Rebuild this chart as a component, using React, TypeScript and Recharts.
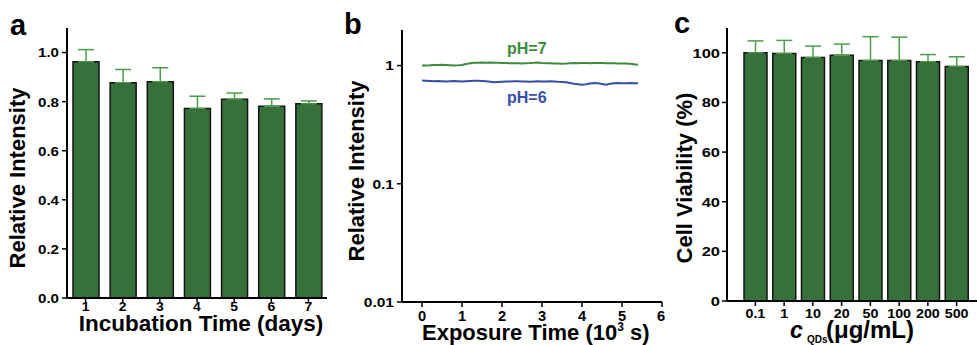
import React from 'react';
import { BarChart, Bar, LineChart, Line, XAxis, YAxis, ErrorBar, Label } from 'recharts';

// panel a: relative intensity over incubation days
const days = ['1', '2', '3', '4', '5', '6', '7'];
const dayIntensity = [0.962, 0.877, 0.881, 0.772, 0.81, 0.781, 0.791];
const dayError = [0.05, 0.054, 0.057, 0.05, 0.025, 0.03, 0.012];

// panel b: photostability traces (time in 10^3 s)
const expTime = [
  0, 0.1, 0.2, 0.3, 0.4, 0.5, 0.6, 0.7, 0.8, 0.9, 1.0, 1.1, 1.2, 1.3, 1.4, 1.5, 1.6, 1.7, 1.8,
  1.9, 2.0, 2.1, 2.2, 2.3, 2.4, 2.5, 2.6, 2.7, 2.8, 2.9, 3.0, 3.1, 3.2, 3.3, 3.4, 3.5, 3.6, 3.7,
  3.8, 3.9, 4.0, 4.1, 4.2, 4.3, 4.4, 4.5, 4.6, 4.7, 4.8, 4.9, 5.0, 5.1, 5.2, 5.3, 5.4,
];
const ph7 = [
  1.0, 1.002, 1.005, 1.01, 1.012, 1.015, 1.012, 1.008, 1.003, 1.006, 1.012, 1.03, 1.045, 1.055,
  1.058, 1.06, 1.057, 1.062, 1.058, 1.055, 1.052, 1.05, 1.046, 1.044, 1.045, 1.043, 1.047, 1.05,
  1.055, 1.062, 1.052, 1.048, 1.046, 1.043, 1.04, 1.038, 1.04, 1.046, 1.05, 1.048, 1.052, 1.05,
  1.047, 1.05, 1.054, 1.052, 1.048, 1.045, 1.046, 1.043, 1.04, 1.042, 1.035, 1.025, 1.018,
];
const ph6 = [
  0.748, 0.745, 0.742, 0.736, 0.74, 0.738, 0.733, 0.736, 0.74, 0.737, 0.734, 0.738, 0.742, 0.745,
  0.743, 0.74, 0.736, 0.73, 0.722, 0.726, 0.731, 0.734, 0.732, 0.736, 0.738, 0.735, 0.733, 0.73,
  0.734, 0.736, 0.732, 0.735, 0.737, 0.734, 0.73, 0.728, 0.722, 0.712, 0.702, 0.696, 0.69, 0.694,
  0.705, 0.712, 0.708, 0.7, 0.69, 0.702, 0.71, 0.712, 0.71, 0.708, 0.712, 0.71, 0.708,
];

// panel c: cell viability vs QD concentration
const concs = ['0.1', '1', '10', '20', '50', '100', '200', '500'];
const viability = [100, 99.7, 98.1, 99, 96.9, 96.9, 96.4, 94.5];
const viabilityErr = [4.8, 5.3, 4.6, 4.5, 9.6, 9.4, 2.9, 3.9];

const dataA = days.map((d, i) => ({ day: d, value: dayIntensity[i], err: [0, dayError[i]] }));
const dataB = expTime.map((t, i) => ({ t, ph7: ph7[i], ph6: ph6[i] }));
const dataC = concs.map((c, i) => ({ conc: c, value: viability[i], err: [0, viabilityErr[i]] }));

const FONT = '"Liberation Sans", Arial, Helvetica, sans-serif';
const BAR_FILL = '#37703a';
const ERR_COLOR = '#4c9c4c';
const frame = { stroke: '#000', strokeWidth: 2 };
const tickLine = { stroke: '#000', strokeWidth: 1.5 };

const AxisTick = (props: any) => {
  const { x = 0, y = 0, payload, side = 'left', stretch = 1.2, size = 13.5, fmt } = props;
  const label = fmt ? fmt(payload.value) : String(payload.value);
  return (
    <text
      transform={`translate(${x},${y}) scale(${stretch},1)`}
      textAnchor={side === 'left' ? 'end' : 'middle'}
      dy={side === 'left' ? '0.36em' : '0.72em'}
      fontSize={size}
      fontWeight="bold"
      fontFamily={FONT}
      fill="#000"
    >
      {label}
    </text>
  );
};

const yTitle = (text: string, x: number, y: number, size = 22) => () => (
  <text
    x={x}
    y={y}
    transform={`rotate(-90, ${x}, ${y})`}
    textAnchor="middle"
    fontSize={size}
    fontWeight="bold"
    fontFamily={FONT}
    fill="#000"
  >
    {text}
  </text>
);

const blank = () => '';

const PanelA = () => (
  <BarChart width={330} height={345} data={dataA} margin={{ top: 28, right: 3, bottom: 0, left: 0 }}>
    <XAxis
      dataKey="day"
      height={47}
      interval={0}
      tickSize={4}
      tickMargin={0}
      axisLine={frame}
      tickLine={tickLine}
      tick={<AxisTick side="bottom" stretch={1.12} size={12.5} />}
    >
      <Label
        content={() => (
          <text x={201} y={331} textAnchor="middle" fontSize={22.5} fontWeight="bold" fontFamily={FONT} fill="#000">
            Incubation Time (days)
          </text>
        )}
      />
    </XAxis>
    <XAxis
      xAxisId="minor"
      type="number"
      domain={[0.5, 7.5]}
      ticks={[1.5, 2.5, 3.5, 4.5, 5.5, 6.5]}
      height={0}
      axisLine={false}
      tickSize={3}
      tickLine={tickLine}
      tickFormatter={blank}
    />
    <XAxis xAxisId="frame" orientation="top" height={0} tick={false} tickLine={false} axisLine={frame} />
    <YAxis
      width={67}
      domain={[0, 1.1]}
      ticks={[0, 0.2, 0.4, 0.6, 0.8, 1.0]}
      tickSize={5}
      tickMargin={3}
      axisLine={frame}
      tickLine={tickLine}
      tick={<AxisTick side="left" stretch={1.12} size={13.5} fmt={(v: number) => v.toFixed(1)} />}
    >
      <Label content={yTitle('Relative Intensity', 25, 178)} />
    </YAxis>
    <YAxis
      yAxisId="minor"
      width={0}
      domain={[0, 1.1]}
      ticks={[0.1, 0.3, 0.5, 0.7, 0.9]}
      axisLine={false}
      tickSize={3}
      tickLine={tickLine}
      tickFormatter={blank}
    />
    <YAxis yAxisId="frame" orientation="right" width={0} tick={false} tickLine={false} axisLine={frame} />
    <Bar dataKey="value" barSize={26} fill={BAR_FILL} stroke="#151515" strokeWidth={1.5} isAnimationActive={false}>
      <ErrorBar dataKey="err" width={8} stroke={ERR_COLOR} strokeWidth={1.5} direction="y" isAnimationActive={false} />
    </Bar>
  </BarChart>
);

const PanelB = () => (
  <LineChart width={335} height={345} data={dataB} margin={{ top: 30, right: 3, bottom: 0, left: 0 }}>
    <XAxis
      dataKey="t"
      type="number"
      domain={[-0.5, 6]}
      ticks={[0, 1, 2, 3, 4, 5, 6]}
      allowDataOverflow
      height={43}
      tickSize={5}
      tickMargin={4}
      axisLine={frame}
      tickLine={tickLine}
      tick={<AxisTick side="bottom" stretch={1.05} size={14} />}
    >
      <Label
        content={() => (
          <text x={92} y={340} textAnchor="start" fontSize={22} fontWeight="bold" fontFamily={FONT} fill="#000">
            <tspan>Exposure Time (10</tspan>
            <tspan dy={-9} fontSize={12}>3</tspan>
            <tspan dy={9}> s)</tspan>
          </text>
        )}
      />
    </XAxis>
    <XAxis xAxisId="frame" orientation="top" height={0} tick={false} tickLine={false} axisLine={frame} />
    <YAxis
      type="number"
      scale="log"
      domain={[0.01, 2]}
      allowDataOverflow
      ticks={[0.01, 0.1, 1]}
      width={72}
      tickSize={5}
      tickMargin={3}
      axisLine={frame}
      tickLine={tickLine}
      tick={<AxisTick side="left" stretch={1.15} size={13.5} />}
    >
      <Label content={yTitle('Relative Intensity', 34, 171)} />
    </YAxis>
    <YAxis
      yAxisId="minor"
      type="number"
      scale="log"
      domain={[0.01, 2]}
      allowDataOverflow
      ticks={[0.02, 0.03, 0.04, 0.05, 0.06, 0.07, 0.08, 0.09, 0.2, 0.3, 0.4, 0.5, 0.6, 0.7, 0.8, 0.9]}
      width={0}
      axisLine={false}
      tickSize={3}
      tickLine={tickLine}
      tickFormatter={blank}
    />
    <YAxis yAxisId="frame" orientation="right" width={0} tick={false} tickLine={false} axisLine={frame} />
    <Line dataKey="ph7" stroke="#3c8c3c" strokeWidth={2} dot={false} isAnimationActive={false} />
    <Line dataKey="ph6" stroke="#3450a8" strokeWidth={2} dot={false} isAnimationActive={false} />
  </LineChart>
);

const PanelC = () => (
  <BarChart width={327} height={345} data={dataC} margin={{ top: 28, right: 0, bottom: 0, left: 0 }}>
    <XAxis
      dataKey="conc"
      height={44}
      interval={0}
      padding={{ left: 14, right: 6 }}
      tickSize={5}
      tickMargin={3}
      axisLine={frame}
      tickLine={tickLine}
      tick={<AxisTick side="bottom" stretch={1.1} size={13} />}
    >
      <Label
        content={() => (
          <text y={338} fontWeight="bold" fontFamily={FONT} fill="#000">
            <tspan x={140} fontSize={23} fontStyle="italic">c</tspan>
            <tspan x={157} dy={5} fontSize={10}>QDs</tspan>
            <tspan x={176} dy={-5} fontSize={24}>(μg/mL)</tspan>
          </text>
        )}
      />
    </XAxis>
    <XAxis xAxisId="frame" orientation="top" height={0} tick={false} tickLine={false} axisLine={frame} />
    <YAxis
      width={77}
      domain={[0, 110]}
      ticks={[0, 20, 40, 60, 80, 100]}
      tickSize={5}
      tickMargin={2}
      axisLine={frame}
      tickLine={tickLine}
      tick={<AxisTick side="left" stretch={1.22} size={13.5} />}
    >
      <Label content={yTitle('Cell Viability (%)', 42, 178)} />
    </YAxis>
    <YAxis
      yAxisId="minor"
      width={0}
      domain={[0, 110]}
      ticks={[10, 30, 50, 70, 90]}
      axisLine={false}
      tickSize={3}
      tickLine={tickLine}
      tickFormatter={blank}
    />
    <Bar dataKey="value" barSize={23} fill={BAR_FILL} stroke="#151515" strokeWidth={1.5} isAnimationActive={false}>
      <ErrorBar dataKey="err" width={8} stroke={ERR_COLOR} strokeWidth={1.5} direction="y" isAnimationActive={false} />
    </Bar>
  </BarChart>
);

const letter = { fontSize: 29, fontWeight: 'bold' as const, fontFamily: FONT, fill: '#000' };

export default function App() {
  return (
    <div style={{ position: 'absolute', left: 0, top: 0, width: 977, height: 345, background: '#fff', overflow: 'hidden', fontFamily: FONT }}>
      <div style={{ position: 'absolute', left: 0, top: 0 }}>
        <PanelA />
      </div>
      <div style={{ position: 'absolute', left: 330, top: 0 }}>
        <PanelB />
      </div>
      <div style={{ position: 'absolute', left: 650, top: 0 }}>
        <PanelC />
      </div>
      <svg width={977} height={345} style={{ position: 'absolute', left: 0, top: 0, pointerEvents: 'none' }}>
        <text x={10} y={35} {...letter}>a</text>
        <text x={344} y={34} {...letter}>b</text>
        <text x={674} y={33} {...letter}>c</text>
        <text x={507} y={54} fontSize={16} fontWeight="bold" fontFamily={FONT} fill="#3c8a3c">pH=7</text>
        <text x={507} y={103} fontSize={16} fontWeight="bold" fontFamily={FONT} fill="#3a4fa6">pH=6</text>
      </svg>
    </div>
  );
}
